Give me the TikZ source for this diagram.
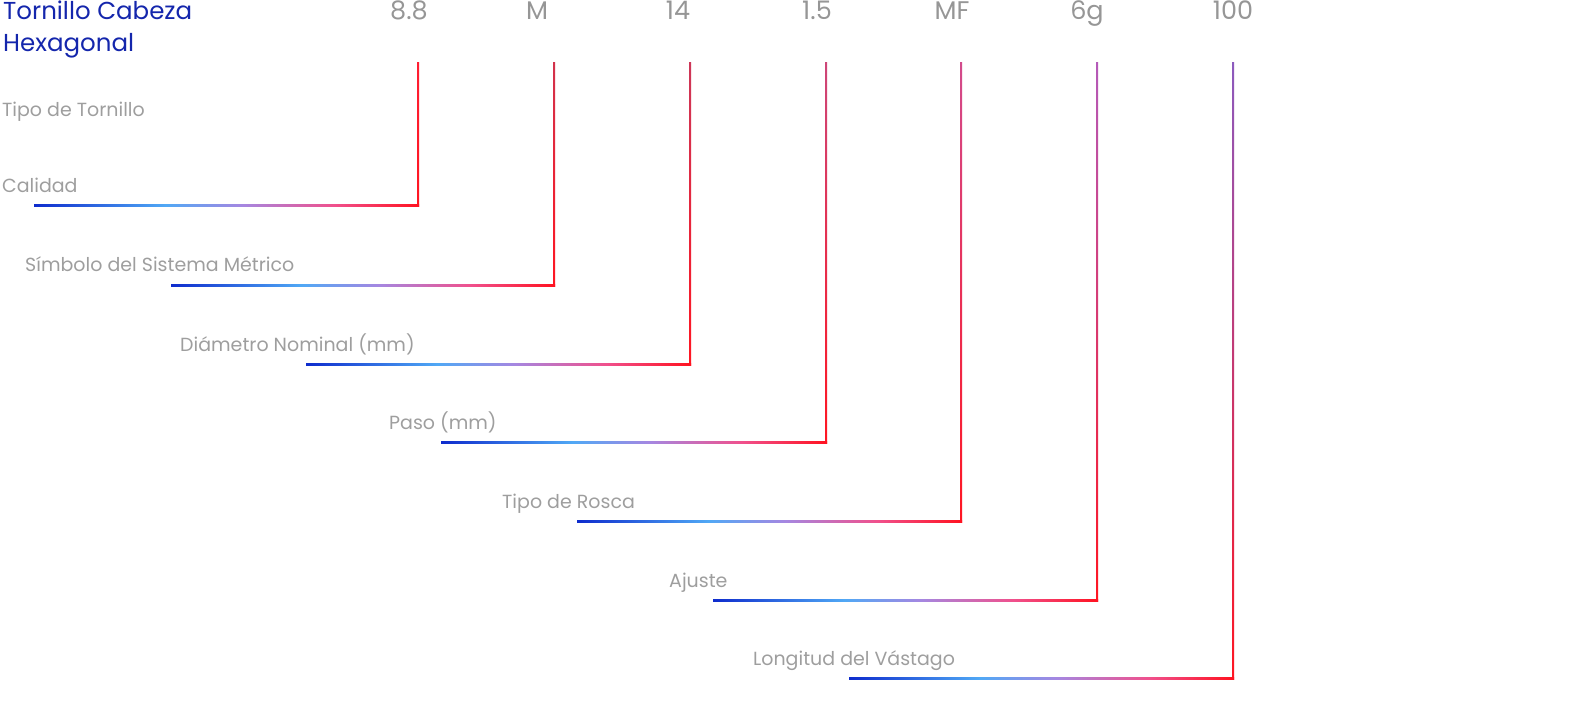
\documentclass[tikz,border=0pt]{standalone}
\usepackage{fontspec}
\setmainfont{Poppins}
\definecolor{ttl}{RGB}{20,38,172}
\definecolor{numgray}{RGB}{150,150,150}
\definecolor{labgray}{RGB}{158,158,158}
\definecolor{cA}{RGB}{14,44,205}
\definecolor{cB}{RGB}{80,168,245}
\definecolor{cC}{RGB}{165,135,225}
\definecolor{cD}{RGB}{240,80,140}
\definecolor{cE}{RGB}{255,18,32}
\definecolor{vred}{RGB}{255,22,34}
\definecolor{v1}{RGB}{255,30,50}
\definecolor{v2}{RGB}{210,50,75}
\definecolor{v3}{RGB}{205,55,88}
\definecolor{v4}{RGB}{205,70,120}
\definecolor{v5}{RGB}{210,75,140}
\definecolor{v6}{RGB}{180,90,185}
\definecolor{v7}{RGB}{140,90,190}
\pgfdeclarehorizontalshading{hgrad}{100bp}{color(0bp)=(cA); color(25bp)=(cA); color(42bp)=(cB); color(52bp)=(cC); color(64bp)=(cD); color(75bp)=(cE); color(100bp)=(cE)}
\tikzset{
  titletext/.style={inner sep=0pt, anchor=base west, text=ttl, font=\fontsize{24.5}{28}\selectfont},
  numtext/.style={inner sep=0pt, anchor=base, text=numgray, font=\fontsize{25.5}{30}\selectfont},
  labtext/.style={inner sep=0pt, anchor=base west, text=labgray, font=\fontsize{19}{23}\selectfont},
}
\begin{document}
\begin{tikzpicture}[x=1pt,y=-1pt]
\useasboundingbox (0,0) rectangle (1584,703);
\node[titletext] (t1) at (3,20) {Tornillo Cabeza};
\node[titletext] (t2) at (3,52) {Hexagonal};
\node[labtext] (t0) at (2,117) {Tipo de Tornillo};
\foreach \i/\num/\nx/\x/\y/\hx/\lab/\lx/\tc in {
  1/{8.8}/409/418/206/34/{Calidad}/2/v1,
  2/{M}/537/554/285/171/{Símbolo del Sistema Métrico}/25/v2,
  3/{14}/678/690/364/306/{Diámetro Nominal (mm)}/180/v3,
  4/{1.5}/817/826/442/441/{Paso (mm)}/389/v4,
  5/{MF}/952/961/521/577/{Tipo de Rosca}/502/v5,
  6/{6g}/1087/1097/600/713/{Ajuste}/669/v6,
  7/{100}/1233/1233/678/849/{Longitud del Vástago}/753/v7}{
  \node[numtext] (n\i) at (\nx,20) {\num};
  \node[labtext] (l\i) at (\lx,\y-13) {\lab};
  \coordinate (top\i) at (\x,63);
  \coordinate (corner\i) at (\x,\y);
  \coordinate (start\i) at (\hx,\y);
  \shade[top color=\tc, bottom color=vred] ([xshift=-1pt]top\i) rectangle ([xshift=1pt,yshift=-1pt]corner\i);
  \shade[shading=hgrad] ([yshift=1pt]start\i) rectangle ([xshift=1pt,yshift=-1pt]corner\i);
}
\end{tikzpicture}
\end{document}
